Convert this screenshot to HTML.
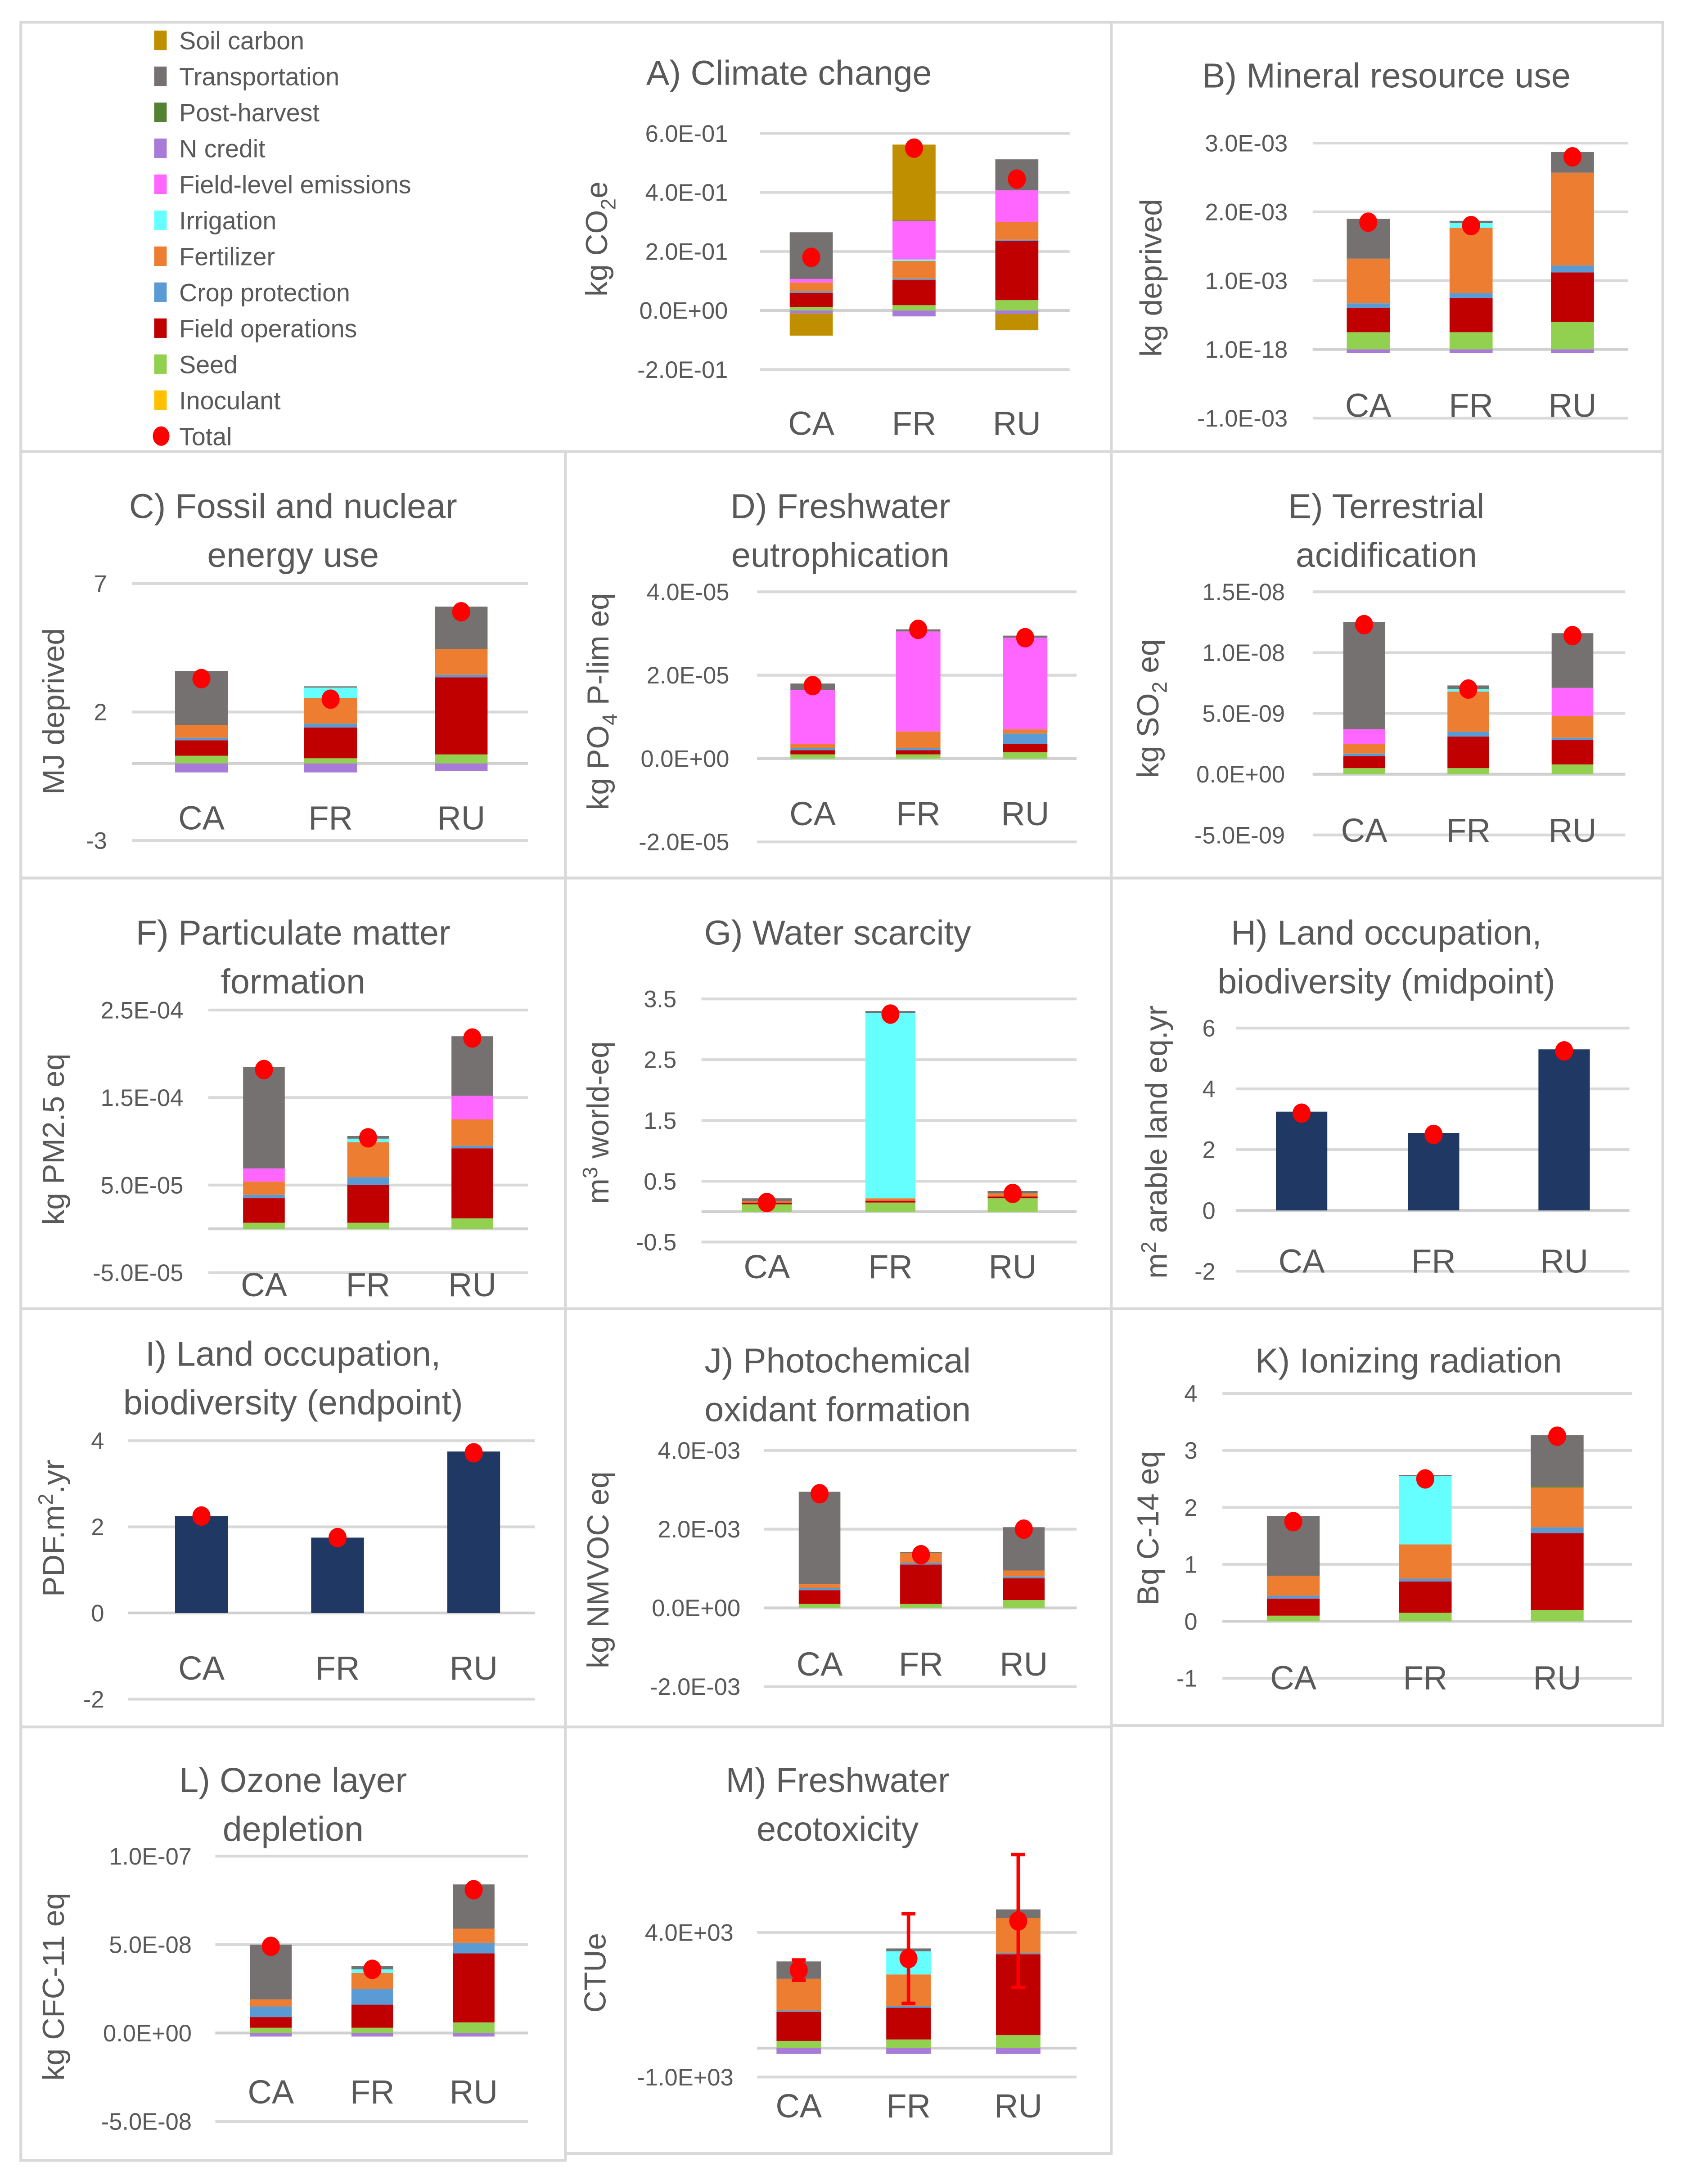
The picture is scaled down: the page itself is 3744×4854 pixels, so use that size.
<!DOCTYPE html>
<html><head><meta charset="utf-8"><style>
html,body{margin:0;padding:0;background:#fff}
svg{display:block}
text{font-family:"Liberation Sans",sans-serif;fill:#595959}
</style></head><body>
<svg id="fig" width="3744" height="4854" viewBox="0 0 1213 1572" preserveAspectRatio="none" xmlns="http://www.w3.org/2000/svg"></svg>
<script>
// ---- data ----
const categories = ['CA','FR','RU'];
const seriesNames = ['Inoculant','Seed','Field operations','Crop protection','Fertilizer','Irrigation','Field-level emissions','N credit','Post-harvest','Transportation','Soil carbon'];
// per category: [inoc, seed, fieldops, crop, fert, irrig, fieldlevel, ncredit, postharvest, transport, soilcarbon]
const valsA = [[0,0.012,0.048,0.005,0.03,0,0.012,-0.01,0,0.158,-0.075],[0,0.018,0.085,0.005,0.06,0.005,0.13,-0.02,0,0.002,0.257],[0,0.035,0.2,0.005,0.06,0,0.107,-0.012,0,0.105,-0.055]];
const totalA = [0.18,0.55,0.445];
const valsB = [[0,0.25,0.35,0.07,0.65,0,0,-0.05,0,0.58,0],[0,0.25,0.5,0.07,0.95,0.07,0,-0.05,0,0.03,0],[0,0.4,0.72,0.1,1.35,0,0,-0.05,0,0.3,0]];
const totalB = [1.85,1.8,2.8];
const valsC = [[0,0.3,0.6,0.1,0.5,0,0,-0.35,0,2.1,0],[0,0.2,1.2,0.15,1.0,0.4,0,-0.35,0,0.05,0],[0,0.35,3.0,0.1,1.0,0,0,-0.3,0,1.65,0]];
const totalC = [3.3,2.5,5.9];
const valsD = [[0,0.1,0.1,0.05,0.1,0,1.3,0,0,0.15,0],[0,0.1,0.1,0.05,0.4,0,2.4,0,0,0.05,0],[0,0.15,0.2,0.25,0.1,0,2.2,0,0,0.05,0]];
const totalD = [1.75,3.1,2.9];
const valsE = [[0,0.5,1.0,0.2,0.8,0,1.2,0,0,8.8,0],[0,0.5,2.6,0.4,3.3,0.2,0,0,0,0.3,0],[0,0.8,2.0,0.2,1.8,0,2.3,0,0,4.5,0]];
const totalE = [12.3,7.0,11.4];
const valsF = [[0,0.7,2.8,0.4,1.5,0,1.5,0,0,11.6,0],[0,0.7,4.3,0.9,4.0,0.4,0,0,0,0.3,0],[0,1.2,8.0,0.3,3.0,0,2.7,0,0,6.8,0]];
const totalF = [18.2,10.4,21.8];
const valsG = [[0,0.12,0.03,0,0.02,0,0,0,0,0.05,0],[0,0.15,0.03,0,0.04,3.05,0,0,0,0.03,0],[0,0.22,0.03,0,0.05,0,0,0,0,0.04,0]];
const totalG = [0.15,3.25,0.3];
const valsH = [3.25,2.55,5.3];
const totalH = [3.2,2.5,5.25];
const valsI = [2.25,1.75,3.75];
const totalI = [2.25,1.75,3.72];
const valsJ = [[0,0.1,0.35,0.05,0.1,0,0,0,0,2.35,0],[0,0.1,1.0,0.05,0.25,0,0,0,0,0.02,0],[0,0.2,0.55,0.05,0.15,0,0,0,0,1.1,0]];
const totalJ = [2.9,1.35,2.0];
const valsK = [[0,0.1,0.3,0.05,0.35,0,0,0,0,1.05,0],[0,0.15,0.55,0.05,0.6,1.2,0,0,0,0.02,0],[0,0.2,1.35,0.1,0.7,0,0,0,0.02,0.9,0]];
const totalK = [1.75,2.5,3.25];
const valsL = [[0,0.3,0.6,0.6,0.4,0,0,-0.2,0,3.1,0],[0,0.3,1.3,0.9,0.9,0.2,0,-0.2,0,0.2,0],[0,0.6,3.9,0.6,0.8,0,0,-0.2,0,2.5,0]];
const totalL = [4.9,3.6,8.1];
const valsM = [[0,0.25,1.0,0.05,1.1,0,0,-0.2,0,0.6,0],[0,0.3,1.1,0.05,1.1,0.8,0,-0.2,0,0.1,0],[0,0.45,2.8,0.05,1.2,0,0,-0.2,0,0.3,0]];
const totalM = [2.7,3.1,4.4];
const errM = [0.35,1.55,2.3];
const ticksA=[0.6,0.4,0.2,0,-0.2], tickLabA=['6.0E-01','4.0E-01','2.0E-01','0.0E+00','-2.0E-01'];
const ticksB=[3,2,1,0,-1], tickLabB=['3.0E-03','2.0E-03','1.0E-03','1.0E-18','-1.0E-03'];
const ticksC=[7,2,-3], tickLabC=['7','2','-3'];
const ticksD=[4,2,0,-2], tickLabD=['4.0E-05','2.0E-05','0.0E+00','-2.0E-05'];
const ticksE=[15,10,5,0,-5], tickLabE=['1.5E-08','1.0E-08','5.0E-09','0.0E+00','-5.0E-09'];
const ticksF=[25,15,5,-5], tickLabF=['2.5E-04','1.5E-04','5.0E-05','-5.0E-05'];
const ticksG=[3.5,2.5,1.5,0.5,-0.5], tickLabG=['3.5','2.5','1.5','0.5','-0.5'];
const ticksH=[6,4,2,0,-2], tickLabH=['6','4','2','0','-2'];
const ticksI=[4,2,0,-2], tickLabI=['4','2','0','-2'];
const ticksJ=[4,2,0,-2], tickLabJ=['4.0E-03','2.0E-03','0.0E+00','-2.0E-03'];
const ticksK=[4,3,2,1,0,-1], tickLabK=['4','3','2','1','0','-1'];
const ticksL=[10,5,0,-5], tickLabL=['1.0E-07','5.0E-08','0.0E+00','-5.0E-08'];
const ticksM=[4,-1], tickLabM=['4.0E+03','-1.0E+03'];

const COLORS=['#FFC000','#92D050','#C00000','#5B9BD5','#ED7D31','#66FFFF','#FF66FF','#A77BD7','#548235','#767171','#BF8F00'];
const NAVY='#203864';
const NS='http://www.w3.org/2000/svg';
const svg=document.getElementById('fig');
function mk(tag,attrs,parent){const e=document.createElementNS(NS,tag);for(const k in attrs)e.setAttribute(k,attrs[k]);(parent||svg).appendChild(e);return e;}
function txt(s,attrs,parent){const e=mk('text',attrs,parent);e.textContent=s;return e;}

// panel borders
const borders=[[15,16,785,309],[800,16,397,309],[15,325,392,307],[407,325,393,307],[800,325,397,307],[15,632,392,310],[407,632,393,310],[800,632,397,310],[15,942,392,301],[407,942,393,301],[800,942,397,300],[15,1243,392,312],[407,1243,393,307]];
borders.forEach((b,i)=>{const r=mk('rect',{x:b[0],y:b[1],width:b[2],height:b[3],fill:'none',stroke:'#d9d9d9','stroke-width':2});

});

// legend
const legOrder=[10,9,8,7,6,5,4,3,2,1,0];
const lg=mk('g',{});


legOrder.forEach((s,i)=>{const y=29+i*25.9;
 const sw=mk('rect',{x:111,y:y-7,width:9,height:14,fill:COLORS[s]},lg);
 
 
 const t=txt(seriesNames[s],{x:129,y:y+6.5,'font-size':18},lg);
 
 });
{const y=29+11*25.9;
 const d=mk('ellipse',{cx:116,cy:y,rx:6,ry:7,fill:'#FF0000'},lg);
 
 
 const t=txt('Total',{x:129,y:y+6.5,'font-size':18},lg);
 
 }

function panel(p){
 const g=mk('g',{});
 
 
 const Y=v=>p.py0+(p.v0-v)*(p.py1-p.py0)/(p.v0-p.v1);
 p.ticks.forEach((v,i)=>{
  const l=mk('line',{x1:p.gx1,x2:p.gx2,y1:Y(v),y2:Y(v),stroke:v===0?'#d0d0d0':'#d9d9d9','stroke-width':2},g);
  
  
  const t=txt(p.labels[i],{x:p.lr,y:Y(v)+6,'font-size':17,'text-anchor':'end'},g);
  
  });
 const zl=mk('line',{x1:p.gx1,x2:p.gx2,y1:Y(0),y2:Y(0),stroke:'#d0d0d0','stroke-width':2},g);
 
 
 categories.forEach((c,ci)=>{
  const cx=p.bx[ci];
  if(p.single){
   const r=mk('rect',{x:cx-p.bw/2,y:Math.min(Y(0),Y(p.single[ci])),width:p.bw,height:Math.abs(Y(p.single[ci])-Y(0)),fill:NAVY},g);
   
   
  } else {
   let pos=0,neg=0;
   p.vals[ci].forEach((v,si)=>{
    if(v===0)return;
    let a,b;
    if(v>0){a=pos;b=pos+v;pos=b;}else{a=neg;b=neg+v;neg=b;}
    const r=mk('rect',{x:cx-p.bw/2,y:Math.min(Y(a),Y(b)),width:p.bw,height:Math.abs(Y(b)-Y(a)),fill:COLORS[si]},g);
    
    });
  }
  if(p.err){const e=p.err[ci],t=p.total[ci];
   const el=mk('path',{d:`M${cx} ${Y(t+e)}V${Y(t-e)}M${cx-5} ${Y(t+e)}H${cx+5}M${cx-5} ${Y(t-e)}H${cx+5}`,stroke:'#FF0000','stroke-width':2.5,fill:'none'},g);
   
   }
  const d=mk('ellipse',{cx:cx,cy:Y(p.total[ci]),rx:6.5,ry:7,fill:'#FF0000'},g);
  
  
  const xl=txt(c,{x:cx,y:p.xy,'font-size':24,'text-anchor':'middle'},g);
  
  
 });
 p.title.forEach((s,i)=>{const t=txt(s,{x:p.tx,y:p.ty+i*35,'font-size':25,'text-anchor':'middle'},g);
  
  });
 const yt=mk('text',{x:0,y:0,'font-size':22,'text-anchor':'middle',transform:`translate(${p.ytx},${p.yty}) rotate(-90)`},g);
 yt.innerHTML=p.ytitle;
 
 
}

panel({id:'a',vals:valsA,total:totalA,ticks:ticksA,labels:tickLabA,v0:0.6,py0:96,v1:-0.2,py1:266,lr:524,gx1:547,gx2:770,bx:[584,658,732],bw:31,xy:313,title:['A) Climate change'],tx:568,ty:61,ytitle:'kg CO<tspan font-size="15" dy="6">2</tspan><tspan dy="-6">e</tspan>',ytx:437,yty:172});
panel({id:'b',vals:valsB,total:totalB,ticks:ticksB,labels:tickLabB,v0:3,py0:103,v1:-1,py1:301,lr:927,gx1:945,gx2:1172,bx:[985,1059,1132],bw:31,xy:300,title:['B) Mineral resource use'],tx:998,ty:63,ytitle:'kg deprived',ytx:836,yty:200});
panel({id:'c',vals:valsC,total:totalC,ticks:ticksC,labels:tickLabC,v0:7,py0:420,v1:-3,py1:605,lr:77,gx1:95,gx2:380,bx:[145,238,332],bw:38,xy:597,title:['C) Fossil and nuclear','energy use'],tx:211,ty:373,ytitle:'MJ deprived',ytx:46,yty:512});
panel({id:'d',vals:valsD,total:totalD,ticks:ticksD,labels:tickLabD,v0:4,py0:426,v1:-2,py1:606,lr:525,gx1:545,gx2:775,bx:[585,661,738],bw:32,xy:594,title:['D) Freshwater','eutrophication'],tx:605,ty:373,ytitle:'kg PO<tspan font-size="15" dy="6">4</tspan><tspan dy="-6"> P-lim eq</tspan>',ytx:438,yty:505});
panel({id:'e',vals:valsE,total:totalE,ticks:ticksE,labels:tickLabE,v0:15,py0:426,v1:-5,py1:601,lr:925,gx1:945,gx2:1170,bx:[982,1057,1132],bw:30,xy:606,title:['E) Terrestrial','acidification'],tx:998,ty:373,ytitle:'kg SO<tspan font-size="15" dy="6">2</tspan><tspan dy="-6"> eq</tspan>',ytx:834,yty:510});
panel({id:'f',vals:valsF,total:totalF,ticks:ticksF,labels:tickLabF,v0:25,py0:727,v1:-5,py1:916,lr:132,gx1:150,gx2:380,bx:[190,265,340],bw:30,xy:933,title:['F) Particulate matter','formation'],tx:211,ty:680,ytitle:'kg PM2.5 eq',ytx:46,yty:820});
panel({id:'g',vals:valsG,total:totalG,ticks:ticksG,labels:tickLabG,v0:3.5,py0:719,v1:-0.5,py1:894,lr:487,gx1:505,gx2:775,bx:[552,641,729],bw:36,xy:920,title:['G) Water scarcity'],tx:603,ty:680,ytitle:'m<tspan font-size="15" dy="-8">3</tspan><tspan dy="8"> world-eq</tspan>',ytx:438,yty:808});
panel({id:'h',single:valsH,total:totalH,ticks:ticksH,labels:tickLabH,v0:6,py0:740,v1:-2,py1:915,lr:875,gx1:890,gx2:1173,bx:[937,1032,1126],bw:37,xy:916,title:['H) Land occupation,','biodiversity (midpoint)'],tx:998,ty:680,ytitle:'m<tspan font-size="15" dy="-8">2</tspan><tspan dy="8"> arable land eq.yr</tspan>',ytx:840,yty:822});
panel({id:'i',single:valsI,total:totalI,ticks:ticksI,labels:tickLabI,v0:4,py0:1037,v1:-2,py1:1223,lr:75,gx1:92,gx2:385,bx:[145,243,341],bw:38,xy:1209,title:['I) Land occupation,','biodiversity (endpoint)'],tx:211,ty:983,ytitle:'PDF.m<tspan font-size="15" dy="-8">2</tspan><tspan dy="8">.yr</tspan>',ytx:46,yty:1100});
panel({id:'j',vals:valsJ,total:totalJ,ticks:ticksJ,labels:tickLabJ,v0:4,py0:1044,v1:-2,py1:1214,lr:533,gx1:550,gx2:775,bx:[590,663,737],bw:30,xy:1206,title:['J) Photochemical','oxidant formation'],tx:603,ty:988,ytitle:'kg NMVOC eq',ytx:438,yty:1130});
panel({id:'k',vals:valsK,total:totalK,ticks:ticksK,labels:tickLabK,v0:4,py0:1003,v1:-1,py1:1208,lr:862,gx1:880,gx2:1175,bx:[931,1026,1121],bw:38,xy:1216,title:['K) Ionizing radiation'],tx:1014,ty:988,ytitle:'Bq C-14 eq',ytx:834,yty:1100});
panel({id:'l',vals:valsL,total:totalL,ticks:ticksL,labels:tickLabL,v0:10,py0:1336,v1:-5,py1:1527,lr:138,gx1:155,gx2:380,bx:[195,268,341],bw:30,xy:1514,title:['L) Ozone layer','depletion'],tx:211,ty:1290,ytitle:'kg  CFC-11 eq',ytx:46,yty:1430});
panel({id:'m',vals:valsM,total:totalM,err:errM,ticks:ticksM,labels:tickLabM,v0:4,py0:1391,v1:-1,py1:1495,lr:528,gx1:545,gx2:775,bx:[575,654,733],bw:32,xy:1524,title:['M) Freshwater','ecotoxicity'],tx:603,ty:1290,ytitle:'CTUe',ytx:436,yty:1420});
</script>
</body></html>
